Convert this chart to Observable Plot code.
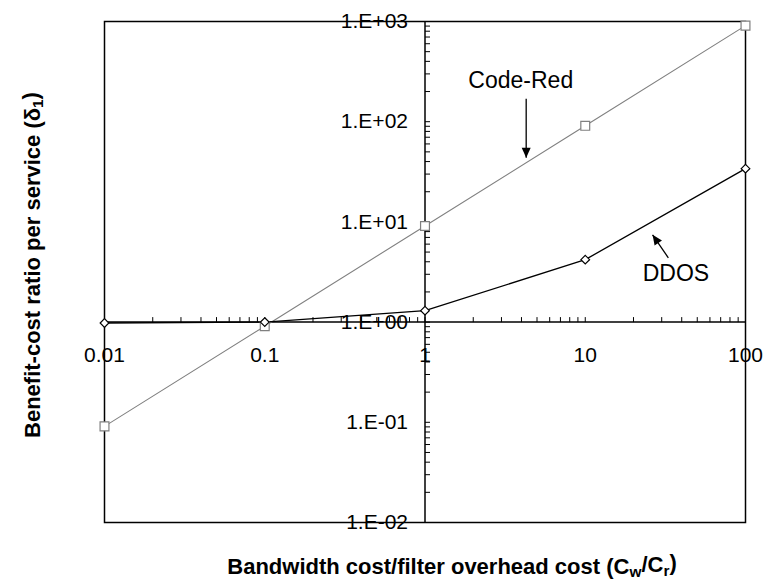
<!DOCTYPE html>
<html>
<head>
<meta charset="utf-8">
<script src="https://cdn.jsdelivr.net/npm/d3@7"></script>
<script src="https://cdn.jsdelivr.net/npm/@observablehq/plot@0.6"></script>
<style>
  body { margin: 0; background: #fff; }
  #chart svg { display: block; }
</style>
</head>
<body>
<div id="chart"></div>
<script>
// Bandwidth cost / filter overhead cost ratio (x) for each measured point
const costRatio = [0.01, 0.1, 1, 10, 100];
// Benefit-cost ratio per service for the two attack scenarios
const codeRed = [0.091, 0.91, 9.1, 91, 910];
const ddos = [0.98, 1.0, 1.3, 4.2, 34];

// Axis ticks and their labels
const xTicks = [0.01, 0.1, 1, 10, 100];
const xTickLabels = ["0.01", "0.1", "1", "10", "100"];
const yTicks = [0.01, 0.1, 1, 10, 100, 1000];
const yTickLabels = ["1.E-02", "1.E-01", "1.E+00", "1.E+01", "1.E+02", "1.E+03"];

// Series call-outs: label position and pointer (tail -> head), in data units
const calloutNames = ["Code-Red", "DDOS"];
const calloutX = [3.96, 36.8];
const calloutY = [256, 3.03];
const pointerTail = [[4.28, 169], [33.0, 4.38]];
const pointerHead = [[4.28, 43.6], [26.3, 7.43]];
const pointerAngle = [0, 145];

// Axis titles, split into normal / subscript runs
const xTitleRuns = [["Bandwidth cost/filter overhead cost (C", false], ["w", true], ["/C", false], ["r", true], [")", false]];
const yTitleRuns = [["Benefit-cost ratio per service (\u03b4", false], ["1", true], [")", false]];

const joinRuns = runs => runs.map(r => r[0]).join("");

const seriesCodeRed = costRatio.map((x, i) => ({x, y: codeRed[i]}));
const seriesDdos = costRatio.map((x, i) => ({x, y: ddos[i]}));
const callouts = calloutNames.map((name, i) => ({name, x: calloutX[i], y: calloutY[i]}));
const pointers = pointerTail.map((t, i) => ({
  x1: t[0], y1: t[1], x2: pointerHead[i][0], y2: pointerHead[i][1], angle: pointerAngle[i]
}));

// Minor ticks: 2..9 within every decade of each axis
const minors = (lo, hi) => {
  const out = [];
  for (let d = lo; d < hi; d *= 10) for (let k = 1; k <= 9; k++) out.push(+(k * d).toPrecision(3));
  out.push(hi);
  return out;
};
const xMinor = minors(0.01, 100);
const yMinor = minors(0.01, 1000);

// Tick symbols (length = r): one pointing up, one pointing right
const tickUp = {draw(ctx, size) { const l = Math.sqrt(size / Math.PI); ctx.moveTo(0, 0); ctx.lineTo(0, -l); }};
const tickRight = {draw(ctx, size) { const l = Math.sqrt(size / Math.PI); ctx.moveTo(0, 0); ctx.lineTo(l, 0); }};
// Filled arrowhead with its tip at the origin, pointing down
const arrowHead = {draw(ctx, size) {
  const l = Math.sqrt(size / Math.PI);
  ctx.moveTo(0, 0); ctx.lineTo(-0.45 * l, -l); ctx.lineTo(0.45 * l, -l); ctx.closePath();
}};

const font = "Liberation Sans, Arial, Helvetica, sans-serif";

const chart = Plot.plot({
  width: 766,
  height: 582,
  marginLeft: 104,
  marginRight: 21,
  marginTop: 21,
  marginBottom: 60,
  style: {fontFamily: font, background: "#fff", color: "#000"},
  x: {type: "log", domain: [0.01, 100], axis: null},
  y: {type: "log", domain: [0.01, 1000], axis: null},
  marks: [
    Plot.frame({stroke: "#000", strokeWidth: 1.5}),
    // axes crossing at (1, 1)
    Plot.ruleY([1], {stroke: "#000", strokeWidth: 1.5}),
    Plot.ruleX([1], {stroke: "#000", strokeWidth: 1.5}),
    Plot.dot(xMinor, {x: d => d, y: () => 1, symbol: tickUp, r: 5, fill: "none", stroke: "#000", strokeWidth: 1}),
    Plot.dot(yMinor, {x: () => 1, y: d => d, symbol: tickRight, r: 5, fill: "none", stroke: "#000", strokeWidth: 1}),
    Plot.text(xTicks, {x: d => d, y: () => 1, text: (d, i) => xTickLabels[i], dy: 33, fontSize: 21, fill: "#000"}),
    Plot.text(yTicks, {x: () => 1, y: d => d, text: (d, i) => yTickLabels[i], dx: -17, textAnchor: "end", fontSize: 21, fill: "#000"}),
    // series
    Plot.line(seriesCodeRed, {x: "x", y: "y", stroke: "#808080", strokeWidth: 1.1}),
    Plot.line(seriesDdos, {x: "x", y: "y", stroke: "#000", strokeWidth: 1.3}),
    Plot.dot(seriesCodeRed, {x: "x", y: "y", symbol: "square", r: 5, fill: "#fff", stroke: "#808080", strokeWidth: 1.2}),
    Plot.dot(seriesDdos, {x: "x", y: "y", symbol: "diamond2", r: 3.9, fill: "#fff", stroke: "#000", strokeWidth: 1.2}),
    // call-outs
    Plot.text(callouts, {x: "x", y: "y", text: "name", fontSize: 23, fill: "#000"}),
    Plot.link(pointers, {x1: "x1", y1: "y1", x2: "x2", y2: "y2", stroke: "#000", strokeWidth: 1.3}),
    Plot.dot(pointers, {x: "x2", y: "y2", symbol: arrowHead, r: 10, rotate: "angle", fill: "#000", stroke: "none"}),
    // axis titles
    Plot.text([joinRuns(xTitleRuns)], {frameAnchor: "bottom", textAnchor: "middle", lineAnchor: "middle", dy: 44, dx: 27, fontSize: 22, fontWeight: "bold", fill: "#000"}),
    Plot.text([joinRuns(yTitleRuns)], {frameAnchor: "left", textAnchor: "middle", lineAnchor: "middle", rotate: -90, dx: -72, dy: -7, fontSize: 22, fontWeight: "bold", fill: "#000"})
  ]
});

// Rebuild the axis titles with subscript runs
function applyRuns(svg, runs) {
  const full = joinRuns(runs);
  d3.select(svg).selectAll("text").each(function () {
    if (this.textContent !== full) return;
    const t = d3.select(this);
    t.text(null);
    let shifted = false;
    for (const [str, sub] of runs) {
      const span = t.append("tspan").text(str);
      if (sub && !shifted) { span.attr("dy", "0.25em").attr("font-size", "70%"); shifted = true; }
      else if (sub) { span.attr("font-size", "70%"); }
      else if (shifted) { span.attr("dy", "-0.25em"); shifted = false; }
    }
  });
}
applyRuns(chart, xTitleRuns);
applyRuns(chart, yTitleRuns);

document.getElementById("chart").appendChild(chart);
</script>
</body>
</html>
